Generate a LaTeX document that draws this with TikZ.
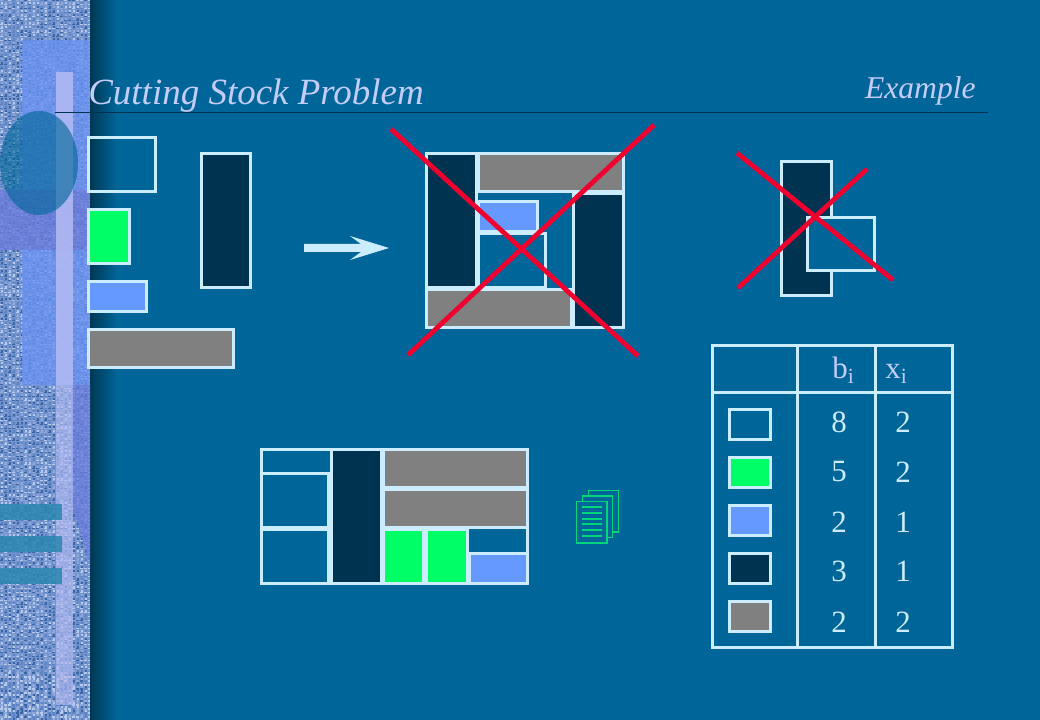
\documentclass[tikz,border=0pt]{standalone}
\usepackage{fontspec}
\setmainfont{Liberation Serif}
\definecolor{slidebg}{HTML}{006699}
\definecolor{edgecol}{HTML}{CCECFF}
\definecolor{darkcol}{HTML}{003350}
\definecolor{greencol}{HTML}{00FF66}
\definecolor{bluecol}{HTML}{6699FF}
\definecolor{greycol}{HTML}{808080}
\definecolor{redcol}{HTML}{F0002F}
\definecolor{titlecol}{HTML}{C4CCF8}
\definecolor{iconcol}{HTML}{00D47C}
\definecolor{weavecol}{HTML}{7494CE}
\definecolor{weave0}{HTML}{3A66A6}
\definecolor{weave1}{HTML}{5C84C2}
\definecolor{weave2}{HTML}{B8CAEC}
\definecolor{weave3}{HTML}{8FA9DC}
\definecolor{tintcol}{HTML}{6A92F2}
\definecolor{mauvecol}{HTML}{6A7CDC}
\definecolor{stripcol}{HTML}{B4BCF4}
\definecolor{barcol}{HTML}{2A86B0}
\tikzset{
    piece/.style={draw=edgecol, line width=3pt*0.7113},
    blankpiece/.style={piece},
    greenpiece/.style={piece, fill=greencol},
    bluepiece/.style={piece, fill=bluecol},
    darkpiece/.style={piece, fill=darkcol},
    greypiece/.style={piece, fill=greycol},
    crossline/.style={draw=redcol, line width=3.4pt},
    tablerule/.style={draw=edgecol, line width=3pt*0.7113},
    pagesheet/.style={draw=iconcol, fill=slidebg, line width=0.8pt},
    pageline/.style={draw=iconcol, line width=0.8pt},
    cellnum/.style={text=edgecol, font=\fontsize{22}{24}\selectfont},
    cellhead/.style={text=titlecol, font=\fontsize{22}{24}\selectfont, anchor=base west}
}
\begin{document}
\begin{tikzpicture}[x=0.025cm, y=-0.025cm]
    \useasboundingbox (0,0) rectangle (1040,720);
    \fill[slidebg] (0,0) rectangle (1040,720);
    \shade[left color=slidebg!40!black, right color=slidebg] (81,0) rectangle (117,720);
    % side band
    \fill[weavecol] (0,0) rectangle (90,720);
    \pgfmathsetseed{7}
    \foreach \y in {0,4,...,716} {
        \foreach \x in {0,4,...,84} {
            \pgfmathrandominteger{\tone}{0}{3}
            \pgfmathrandominteger{\other}{0}{3}
            \fill[weave\tone] (\x,\y) rectangle +(3,1.5);
            \fill[weave\other] (\x+1,\y+2) rectangle +(1.5,2);
        }
        \fill[weave2] (88,\y) rectangle +(2,1.5);
    }
    \fill[tintcol, opacity=0.78] (22,40) rectangle (90,190);
    \fill[mauvecol, opacity=0.8] (0,190) rectangle (90,250);
    \fill[tintcol, opacity=0.78] (22,250) rectangle (72,385);
    \fill[tintcol, opacity=0.78] (72,250) rectangle (90,385);
    \fill[mauvecol, opacity=0.75] (72,385) -- (90,385) -- (90,565) -- (72,505) -- cycle;
    \fill[stripcol, opacity=0.85] (56,72) rectangle (73,385);
    \fill[stripcol, opacity=0.65] (56,385) rectangle (73,705);
    \fill[slidebg, opacity=0.62] (39,163) ellipse (39 and 52);
    \fill[barcol, opacity=0.85] (0,504) rectangle (62,520);
    \fill[barcol, opacity=0.85] (0,536) rectangle (62,552);
    \fill[barcol, opacity=0.85] (0,568) rectangle (62,584);
    % title
    \draw[darkcol, line width=0.7pt] (55,112) -- (988,112);
    \node (title) at (88,105) [anchor=base west, inner sep=0pt, text=titlecol, font=\fontsize{26.3}{28}\selectfont\itshape] {Cutting Stock Problem};
    \node (subtitle) at (976,99) [anchor=base east, inner sep=0pt, text=titlecol, font=\fontsize{22.5}{24}\selectfont\itshape] {Example};
    % pieces on the left
    \draw[blankpiece] (88.5,137.5) rectangle (155.5,191.5);
    \draw[greenpiece] (88.5,209.5) rectangle (129.5,263.5);
    \draw[bluepiece] (88.5,281.5) rectangle (146.5,311.5);
    \draw[greypiece] (88.5,329.5) rectangle (233.5,367.5);
    \draw[darkpiece] (201.5,153.5) rectangle (250.5,287.5);
    % block arrow
    \fill[edgecol] (304,244) -- (361,244) -- (350,236) -- (389,248) -- (350,260) -- (361,252) -- (304,252) -- cycle;
    % rejected layout
    \draw[piece] (426.5,153.5) rectangle (623.5,327.5);
    \draw[darkpiece] (426.5,153.5) rectangle (476,288);
    \draw[greypiece] (478,153.5) rectangle (623.5,192);
    \draw[darkpiece] (573.5,193.5) rectangle (623.5,327.5);
    \draw[greypiece] (426.5,289.5) rectangle (571.5,327.5);
    \draw[bluepiece] (478.5,201.5) rectangle (537,232);
    \draw[blankpiece] (478.5,233.5) rectangle (545.5,288);
    \draw[crossline] (391,129) -- (638,356);
    \draw[crossline] (654,125) -- (408,355);
    % rejected overlap
    \draw[darkpiece] (781.5,161.5) rectangle (831.5,295.5);
    \draw[blankpiece, fill=slidebg] (807.5,217.5) rectangle (874.5,270.5);
    \draw[crossline] (737,153) -- (893,280);
    \draw[crossline] (867,169) -- (738,288);
    % accepted layout
    \draw[blankpiece] (261.5,449.5) rectangle (331.5,473.5);
    \draw[blankpiece] (261.5,473.5) rectangle (328.5,527.5);
    \draw[blankpiece] (261.5,529.5) rectangle (328.5,583.5);
    \draw[darkpiece] (331.5,449.5) rectangle (381.5,583.5);
    \draw[greypiece] (383.5,449.5) rectangle (527.5,487.5);
    \draw[greypiece] (383.5,489.5) rectangle (527.5,527.5);
    \draw[greenpiece] (383.5,529.5) rectangle (423.5,583.5);
    \draw[greenpiece] (426.5,529.5) rectangle (467.5,583.5);
    \draw[blankpiece] (467.5,527.5) rectangle (527.5,553.5);
    \draw[bluepiece] (469.5,553.5) rectangle (527.5,583.5);
    % pages icon
    \draw[pagesheet] (588.5,490.5) rectangle (618.5,532);
    \draw[pagesheet] (582.5,496) rectangle (612.5,537.5);
    \draw[pagesheet] (576.5,501.5) rectangle (607,543);
    \foreach \y in {507,513,519,524,530,536} {
        \draw[pageline] (582,\y) -- (602,\y);
    }
    % table
    \draw[tablerule] (712.5,345.5) rectangle (952.5,647.5);
    \draw[tablerule] (712.5,392.5) -- (952.5,392.5);
    \draw[tablerule] (797.5,345.5) -- (797.5,647.5);
    \draw[tablerule] (875.5,345.5) -- (875.5,647.5);
    \node (headb) at (832,379) [cellhead, inner sep=0pt] {b\textsubscript{i}};
    \node (headx) at (885,379) [cellhead, inner sep=0pt] {x\textsubscript{i}};
    \draw[blankpiece] (729.5,409.5) rectangle (770.5,439.5);
    \draw[greenpiece] (729.5,457.5) rectangle (770.5,487.5);
    \draw[bluepiece] (729.5,505.5) rectangle (770.5,535.5);
    \draw[darkpiece] (729.5,553.5) rectangle (770.5,583.5);
    \draw[greypiece] (729.5,601.5) rectangle (770.5,631.5);
    \foreach \y/\b/\xval [count=\r] in {422/8/2, 472/5/2, 522/2/1, 571/3/1, 622/2/2} {
        \node (b\r) at (839,\y) [cellnum, inner sep=0pt] {\b};
        \node (x\r) at (903,\y) [cellnum, inner sep=0pt] {\xval};
    }
\end{tikzpicture}
\end{document}
